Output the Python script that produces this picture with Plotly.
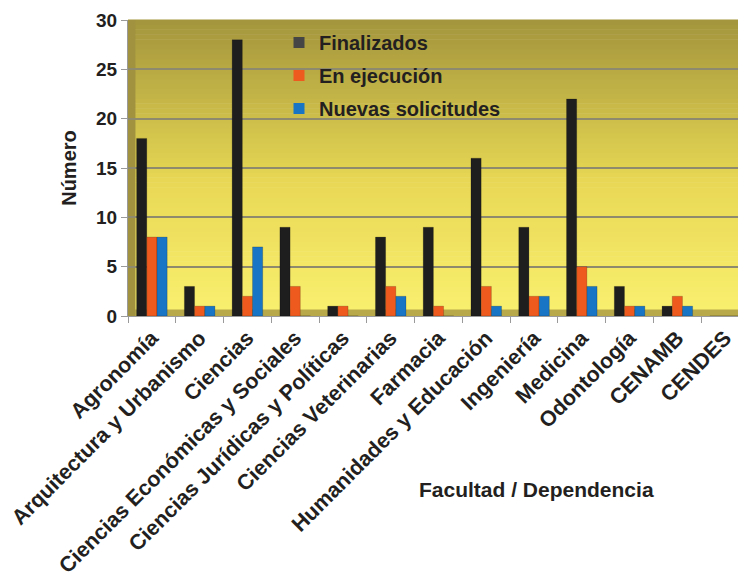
import plotly.graph_objects as go

categories = ["Agronomía", "Arquitectura y Urbanismo", "Ciencias",
              "Ciencias Económicas y Sociales", "Ciencias Jurídicas y Políticas",
              "Ciencias Veterinarias", "Farmacia", "Humanidades y Educación",
              "Ingeniería", "Medicina", "Odontología", "CENAMB", "CENDES"]
finalizados = [18, 3, 28, 9, 1, 8, 9, 16, 9, 22, 3, 1, 0]
en_ejecucion = [8, 1, 2, 3, 1, 3, 1, 3, 2, 5, 1, 2, 0]
nuevas = [8, 1, 7, 0, 0, 2, 0, 1, 2, 3, 1, 1, 0]
series_names = ["Finalizados", "En ejecución", "Nuevas solicitudes"]
bar_colors = ["#1E1E1E", "#EE5A1E", "#1874C4"]
legend_colors = ["#454545", "#EE5A1E", "#1874C4"]
y_ticks = [0, 5, 10, 15, 20, 25, 30]

FONT = "Liberation Sans, Arial, sans-serif"
TXT = "#231F20"

# page body has an 8px default margin; plot area in screen px:
PL, PR, PT, PB = 128, 749, 20, 316
OFF = 8
W, H = 746, 579
pw, ph = PR - PL, PB - PT

fig = go.Figure()
for name, vals, col in zip(series_names, [finalizados, en_ejecucion, nuevas], bar_colors):
    fig.add_trace(go.Bar(x=categories, y=vals, name=name, marker_color=col,
                         marker_line=dict(color="rgba(0,0,0,0.35)", width=0.5),
                         showlegend=False))
for name, col in zip(series_names, legend_colors):
    fig.add_trace(go.Scatter(x=[None], y=[None], mode="markers", name=name, legendgroup=name,
                             marker=dict(symbol="square", size=11, color=col)))

# gradient back wall
stops = [(0.0, (250, 240, 112)), (0.45, (232, 216, 84)), (1.0, (163, 149, 60))]
def col_at(t):
    for (t0, c0), (t1, c1) in zip(stops[:-1], stops[1:]):
        if t0 <= t <= t1:
            f = (t - t0) / (t1 - t0)
            return "rgb(%d,%d,%d)" % tuple(round(a + (b - a) * f) for a, b in zip(c0, c1))
    return "rgb(%d,%d,%d)" % stops[-1][1]
shapes = []
N = 60
for i in range(N):
    shapes.append(dict(type="rect", xref="paper", yref="paper", x0=0, x1=1,
                       y0=i / N, y1=(i + 1) / N + 0.002, line=dict(width=0),
                       fillcolor=col_at((i + 0.5) / N), layer="below"))
shapes.append(dict(type="rect", xref="paper", yref="paper", x0=0, x1=1, y0=0, y1=0.022,
                   line=dict(width=0), fillcolor="#B8A94A", layer="below"))
shapes.append(dict(type="rect", xref="paper", yref="paper", x0=0, x1=0.012, y0=0, y1=1,
                   line=dict(width=0), fillcolor="#A0923E", layer="below"))

fig.update_layout(
    width=W, height=H,
    margin=dict(l=PL - OFF, r=W + OFF - PR, t=PT - OFF, b=H + OFF - PB, autoexpand=False),
    paper_bgcolor="white", plot_bgcolor="rgba(0,0,0,0)",
    barmode="group", bargap=0.36, bargroupgap=0.0,
    font=dict(family=FONT, color=TXT, weight="bold"),
    shapes=shapes,
    legend=dict(x=(279 - PL) / pw, y=(PB - 23) / ph, xanchor="left", yanchor="top",
                bgcolor="rgba(0,0,0,0)", font=dict(size=20, family=FONT, color=TXT, weight="bold"),
                tracegroupgap=4, itemwidth=30),
    xaxis=dict(type="category", tickangle=-45, tickfont=dict(size=21.5, family=FONT, color=TXT, weight="bold"),
               ticks="outside", tickson="boundaries", ticklen=6, tickcolor="#9A9A9A",
               showline=True, linecolor="#9A9A9A", linewidth=1, showgrid=False,
               range=[-0.5, 12.5], automargin=False, ticklabeloverflow="allow"),
    yaxis=dict(range=[0, 30], tickvals=y_ticks, tickfont=dict(size=19, family=FONT, color=TXT, weight="bold"),
               ticks="outside", ticklen=6, tickcolor="#9A9A9A", showline=True, linecolor="#9A9A9A",
               showgrid=True, gridcolor="#8E8A6E", gridwidth=2, zeroline=False, automargin=False,
               ticklabeloverflow="allow",
               title=dict(text="Número", font=dict(size=20, family=FONT, color=TXT, weight="bold"), standoff=14)),
    annotations=[dict(text="Facultad / Dependencia", x=(536 - PL) / pw, y=(PB - 503) / ph,
                      xref="paper", yref="paper", showarrow=False,
                      font=dict(size=21, family=FONT, color=TXT, weight="bold"))],
)
fig.write_html("out.html")
